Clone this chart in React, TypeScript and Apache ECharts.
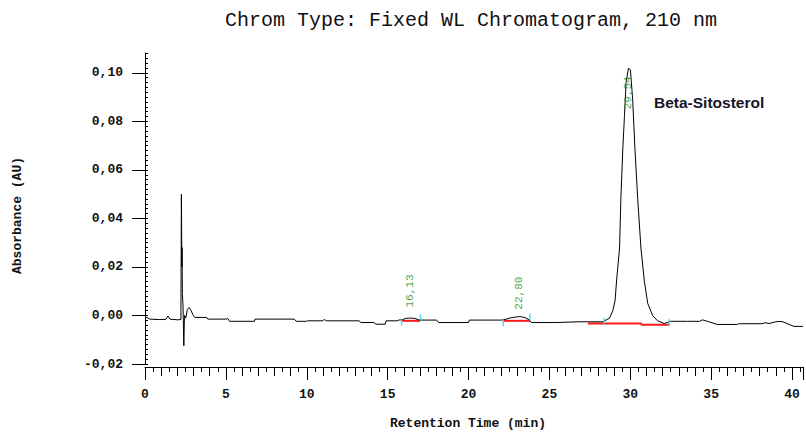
import React, { useEffect, useRef } from 'react';
import * as echarts from 'echarts';

const TITLE = 'Chrom Type: Fixed WL Chromatogram, 210 nm';
const X_NAME = 'Retention Time (min)';
const Y_NAME = 'Absorbance (AU)';
const COMPOUND = 'Beta-Sitosterol';

const xMajorTicks = [0, 5, 10, 15, 20, 25, 30, 35, 40];
const yMajorTicks = [-0.02, 0, 0.02, 0.04, 0.06, 0.08, 0.1];

// chromatogram trace [time (min), absorbance (AU)]
const trace: [number, number][] = [
  [0, -0.0005], [0.31, -0.0015], [0.92, -0.0017], [1.29, -0.0016], [1.42, -0.0002], [1.54, -0.0015],
  [2.03, -0.0018], [2.22, -0.0016],
  [2.25, 0.05], [2.27, 0.031], [2.28, 0.02], [2.29, 0.028], [2.31, 0.009], [2.35, 0.004], [2.4, -0.0125],
  [2.44, 0.0], [2.52, -0.001], [2.62, 0.0025], [2.73, 0.0033], [2.85, 0.002], [2.97, 0.0002], [3.08, -0.0008],
  [3.82, -0.0008], [3.88, -0.0015], [5.05, -0.0015], [5.1, -0.0011], [5.23, -0.0024], [6.77, -0.0024],
  [6.8, -0.0015], [9.23, -0.0015], [9.35, -0.0024], [9.97, -0.0024], [10.05, -0.0022], [11.0, -0.0022],
  [11.08, -0.0016], [11.2, -0.0022], [13.23, -0.0022], [13.35, -0.0029], [14.15, -0.0029], [14.28, -0.0036],
  [14.85, -0.0036], [14.9, -0.0022], [15.57, -0.0022], [15.69, -0.0019], [15.94, -0.0017], [16.12, -0.0012],
  [16.37, -0.0011], [16.49, -0.0011], [16.68, -0.0012], [16.92, -0.0018], [17.11, -0.0019], [18.03, -0.0019],
  [18.15, -0.0029], [20.0, -0.0029], [20.05, -0.0019], [22.03, -0.0019], [22.28, -0.0016], [22.58, -0.001],
  [23.08, -0.0005], [23.26, -0.0005], [23.51, -0.0009], [23.75, -0.0018], [23.88, -0.0029], [25.54, -0.0029],
  [26.77, -0.0026], [28.37, -0.0026], [28.41, -0.0022], [28.72, -0.0011], [28.92, 0.002], [29.06, 0.006],
  [29.17, 0.0155], [29.34, 0.0278], [29.42, 0.0482], [29.54, 0.0686], [29.64, 0.082], [29.74, 0.0959],
  [29.89, 0.102], [30.01, 0.1012], [30.15, 0.089], [30.29, 0.0686], [30.46, 0.0482], [30.66, 0.0278],
  [30.87, 0.0143], [31.08, 0.005], [31.38, 0.0], [31.69, -0.0022], [32.1, -0.0033], [32.49, -0.0024],
  [33.54, -0.0024], [34.3, -0.0024], [34.46, -0.0018], [34.77, -0.0024], [35.38, -0.0037], [36.62, -0.0037],
  [36.7, -0.0034], [38.15, -0.0034], [38.34, -0.003], [38.58, -0.0033], [39.08, -0.0025], [39.38, -0.0025],
  [39.69, -0.0033], [40.12, -0.0045], [40.68, -0.0045],
];

// integration baselines (red)
const baselines: [number, number][][] = [
  [[15.86, -0.0022], [17.03, -0.0022]],
  [[22.15, -0.0022], [23.8, -0.0022]],
  [[27.38, -0.0033], [30.66, -0.0033], [30.7, -0.0038], [32.41, -0.0038]],
];

// integration start / end marks (cyan)
const integrationMarks: [number, number][] = [
  [15.86, -0.0027], [17.03, -0.001], [22.15, -0.003], [23.8, -0.0007], [28.37, -0.0024], [32.41, -0.003],
];

// retention time labels
const peakLabels = ['16,13', '22,80', '29,54'];
const peakLabelPos: [number, number][] = [[16.4, 0.0033], [23.14, 0.0024], [29.85, 0.085]];

const MONO = '"Liberation Mono", "DejaVu Sans Mono", monospace';

const isTick = (list: number[], v: number) => list.some((t) => Math.abs(t - v) < 1e-9);

export default function App() {
  const ref = useRef<HTMLDivElement>(null);
  useEffect(() => {
    if (!ref.current) return;
    const chart = echarts.init(ref.current, undefined, { renderer: 'svg' });
    const X_MAX = 40.68;
    const Y_MIN = -0.02;
    const Y_MAX = 0.1082;
    const baseX = {
      type: 'value' as const,
      min: 0,
      max: X_MAX,
      position: 'bottom' as const,
      offset: 3,
      splitLine: { show: false },
    };
    chart.setOption({
      animation: false,
      backgroundColor: '#ffffff',
      grid: { left: 145, right: 0, top: 53, bottom: 68, containLabel: false },
      graphic: [
        {
          type: 'text',
          x: 471,
          y: 20,
          style: {
            text: TITLE,
            fill: '#111',
            font: `20px ${MONO}`,
            textAlign: 'center',
            textVerticalAlign: 'middle',
          },
        },
        {
          type: 'text',
          x: 654,
          y: 102,
          style: {
            text: COMPOUND,
            fill: '#15152a',
            font: 'bold 15.5px "Liberation Sans", Arial, sans-serif',
            textAlign: 'left',
            textVerticalAlign: 'middle',
          },
        },
      ],
      xAxis: [
        {
          ...baseX,
          interval: 5,
          name: X_NAME,
          nameLocation: 'middle',
          nameGap: 50,
          nameTextStyle: { fontFamily: MONO, fontSize: 13, fontWeight: 'bold', color: '#111', padding: [0, 12, 0, 0] },
          axisLine: { show: true, onZero: false, lineStyle: { color: '#000', width: 1 } },
          axisTick: { show: true, length: 13, lineStyle: { color: '#000', width: 1 } },
          axisLabel: {
            show: true,
            margin: 21,
            fontFamily: MONO,
            fontSize: 13,
            fontWeight: 'bold',
            color: '#111',
            formatter: (v: number) => (isTick(xMajorTicks, v) ? String(Math.round(v)) : ''),
          },
        },
        {
          ...baseX,
          interval: 1,
          axisLine: { show: false, onZero: false },
          axisTick: { show: true, length: 9, lineStyle: { color: '#000', width: 1 } },
          axisLabel: { show: false },
        },
        {
          ...baseX,
          interval: 0.5,
          axisLine: { show: false, onZero: false },
          axisTick: { show: true, length: 5, lineStyle: { color: '#000', width: 1 } },
          axisLabel: { show: false },
        },
      ],
      yAxis: [
        {
          type: 'value',
          min: Y_MIN,
          max: Y_MAX,
          interval: 0.02,
          position: 'left',
          splitLine: { show: false },
          name: Y_NAME,
          nameLocation: 'middle',
          nameGap: 121,
          nameTextStyle: { fontFamily: MONO, fontSize: 13, fontWeight: 'bold', color: '#111', padding: [0, 14, 0, 0] },
          axisLine: { show: true, onZero: false, lineStyle: { color: '#000', width: 1 } },
          axisTick: { show: true, length: 13, customValues: yMajorTicks, lineStyle: { color: '#000', width: 1 } },
          axisLabel: {
            show: true,
            margin: 22,
            customValues: yMajorTicks,
            fontFamily: MONO,
            fontSize: 13,
            fontWeight: 'bold',
            color: '#111',
            formatter: (v: number) => (isTick(yMajorTicks, v) ? v.toFixed(2).replace('.', ',') : ''),
          },
        },
        {
          type: 'value',
          min: Y_MIN,
          max: Y_MAX,
          interval: 0.002,
          position: 'left',
          splitLine: { show: false },
          axisLine: { show: false, onZero: false },
          axisTick: { show: true, inside: true, length: 3, lineStyle: { color: '#000', width: 1 } },
          axisLabel: { show: false },
        },
      ],
      series: [
        ...baselines.map((b) => ({
          type: 'line',
          data: b,
          xAxisIndex: 0,
          yAxisIndex: 0,
          symbol: 'none',
          lineStyle: { color: '#ff1a1a', width: 2 },
          z: 2,
          silent: true,
        })),
        {
          type: 'line',
          data: trace,
          xAxisIndex: 0,
          yAxisIndex: 0,
          symbol: 'none',
          lineStyle: { color: '#000', width: 1 },
          z: 3,
          silent: true,
        },
        {
          type: 'scatter',
          data: integrationMarks,
          xAxisIndex: 0,
          yAxisIndex: 0,
          symbol: 'rect',
          symbolSize: [1.5, 7],
          itemStyle: { color: '#2ad4e6' },
          z: 4,
          silent: true,
        },
        {
          type: 'scatter',
          data: peakLabelPos.map((p, i) => ({ value: p, name: peakLabels[i] })),
          xAxisIndex: 0,
          yAxisIndex: 0,
          symbolSize: 0,
          itemStyle: { color: 'transparent' },
          z: 5,
          silent: true,
          label: {
            show: true,
            position: [0, 0],
            rotate: 90,
            align: 'left',
            verticalAlign: 'middle',
            formatter: (p: any) => p.name,
            fontFamily: MONO,
            fontSize: 11,
            color: '#1a8f1a',
          },
        },
      ],
    });
    return () => chart.dispose();
  }, []);
  return <div ref={ref} style={{ position: 'fixed', left: 0, top: 0, width: 806, height: 435 }} />;
}
